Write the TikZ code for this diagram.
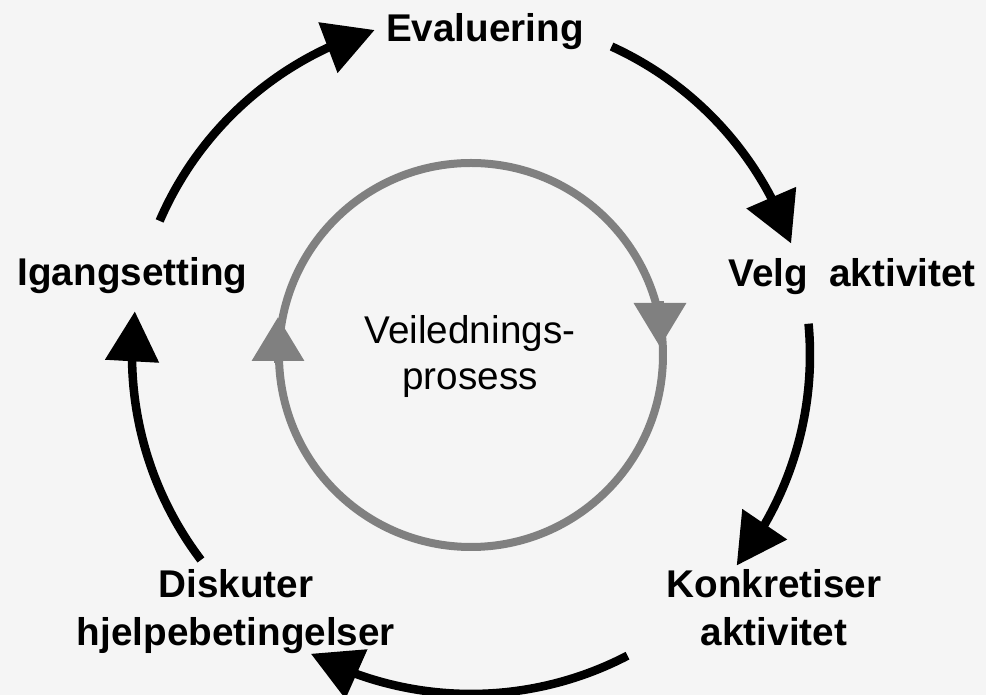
\documentclass[tikz,border=0pt]{standalone}
\usepackage{fontspec}
\setmainfont{Liberation Sans}
\usepackage{tikz}
\usetikzlibrary{positioning,arrows.meta,bending}
\usepackage{xcolor}
\definecolor{bgfill}{RGB}{245,245,245}
\definecolor{ringgray}{RGB}{128,128,128}

\begin{document}
\begin{tikzpicture}[x=0.75pt,y=0.75pt,
  lbl/.style={font=\bfseries\fontsize{29}{36}\selectfont,inner sep=0pt,align=center},
  cyc/.style={line width=6.4pt,-{Triangle[length=37.5pt,width=39pt]}},
  ring/.style={draw=ringgray,line width=6pt},
  ringtip/.style={draw=ringgray,line width=6pt,-{Triangle[length=33pt,width=38pt]},ringgray}]
\fill[bgfill] (-471,-340) rectangle (515,355);
\useasboundingbox (-471,-340) rectangle (515,355);
\coordinate (hub) at (0,0);
% labels
\node[lbl,anchor=base] (eval) at (14,313) {Evaluering};
\node[lbl,anchor=base] (start) at (-338.5,69) {Igangsetting};
\node[lbl,anchor=base] (velg) at (381,68) {Velg\ \ aktivitet};
\node[lbl,anchor=north] (disk) at (-235,-214) {Diskuter\\hjelpebetingelser};
\node[lbl,anchor=north] (konk) at (303,-214) {Konkretiser\\aktivitet};
\node[font=\fontsize{29}{34.5}\selectfont,align=center,inner sep=0pt,anchor=north] (mid) at (-1,40) {Veilednings-\\prosess};
% inner ring
\draw[ring] (hub) circle[radius=192];
\coordinate (lb) at (-193,-8);
\coordinate (lt) at (-193,38);
\coordinate (rb) at (189,54);
\coordinate (rt) at (189,8);
\draw[ringtip] (lb) -- (lt);
\draw[ringtip] (rb) -- (rt);
% outer cycle
\foreach \a/\b in {156.7/106.5,65.5/19.2,5.3/-38.4,-62.5/-118.2,-142.8/-187.4}
  \draw[cyc] (hub) ++(\a:339) arc[start angle=\a,end angle=\b,radius=339];
\end{tikzpicture}
\end{document}
